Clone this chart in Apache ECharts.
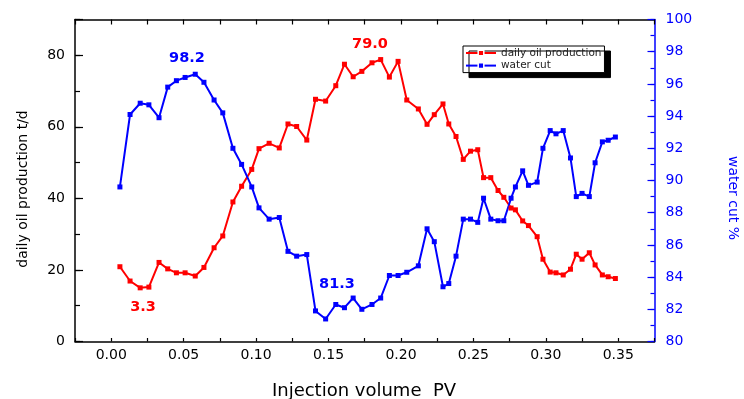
<!DOCTYPE html>
<html><head><meta charset="utf-8">
<script src="https://cdn.jsdelivr.net/npm/echarts@6/dist/echarts.min.js"></script>
<style>html,body{margin:0;padding:0;background:#fff}#c{width:744px;height:399px}</style>
</head><body><div id="c"></div>
<script>
const pv = [0.006,0.013,0.020,0.026,0.033,0.039,0.045,0.051,0.058,0.064,
            0.071,0.077,0.084,0.090,0.097,0.102,0.109,0.116,0.122,0.128,
            0.135,0.141,0.148,0.155,0.161,0.167,0.173,0.180,0.186,0.192,
            0.198,0.204,0.212,0.218,0.223,0.229,0.233,0.238,0.243,0.248,
            0.253,0.257,0.262,0.267,0.271,0.276,0.279,0.284,0.288,0.294,
            0.298,0.303,0.307,0.312,0.317,0.321,0.325,0.330,0.334,0.339,
            0.343,0.348];
const oil = [20.9,16.9,15.0,15.2,22.1,20.3,19.2,19.2,18.3,20.7,
             26.2,29.5,39.0,43.4,48.1,53.9,55.4,54.1,60.8,60.1,
             56.3,67.7,67.2,71.5,77.5,74.0,75.5,77.9,78.8,73.9,
             78.3,67.5,65.0,60.7,63.4,66.4,60.8,57.3,50.9,53.2,
             53.6,45.8,45.8,42.2,40.3,37.3,36.8,33.7,32.4,29.3,
             23.0,19.4,19.2,18.6,20.2,24.4,23.0,24.8,21.4,18.6,
             18.1,17.6];
const waterCut = [89.6,94.1,94.8,94.7,93.9,95.8,96.2,96.4,96.6,96.1,
                  95.0,94.2,92.0,91.0,89.6,88.3,87.6,87.7,85.6,85.3,
                  85.4,81.9,81.4,82.3,82.1,82.7,82.0,82.3,82.7,84.1,
                  84.1,84.3,84.7,87.0,86.2,83.4,83.6,85.3,87.6,87.6,
                  87.4,88.9,87.6,87.5,87.5,88.9,89.6,90.6,89.7,89.9,
                  92.0,93.1,92.9,93.1,91.4,89.0,89.2,89.0,91.1,92.4,
                  92.5,92.7];
const xTickLabels = ['0.00','0.05','0.10','0.15','0.20','0.25','0.30','0.35'];
const seriesNames = ['daily oil production','water cut'];
const annotations = [
  {text:'98.2', color:'#0000ff'},
  {text:'3.3', color:'#ff0000'},
  {text:'79.0', color:'#ff0000'},
  {text:'81.3', color:'#0000ff'}
];
const annPos = [[187,58.5],[143,307.5],[370,44],[337,284.5]];

const FONT = '"DejaVu Sans", sans-serif';
const RED = '#ff0000', BLUE = '#0000ff';
const chart = echarts.init(document.getElementById('c'));

const grid = {left:75, right:89.5, top:19.5, bottom:57.5, containLabel:false};
const baseX = {type:'value', min:-0.025, max:0.375, interval:0.025, splitLine:{show:false}, axisLabel:{show:false}};

chart.setOption({
  animation:false,
  backgroundColor:'#fff',
  grid: grid,
  xAxis:[
    Object.assign({}, baseX, {position:'bottom',
      axisLine:{onZero:false, lineStyle:{color:'#000', width:1.5}},
      axisTick:{inside:true, length:3.5, lineStyle:{color:'#000', width:1.2}}}),
    {type:'category', data:xTickLabels, position:'bottom', boundaryGap:true,
      axisLine:{show:false, onZero:false}, splitLine:{show:false},
      axisTick:{inside:true, alignWithLabel:true, interval:0, length:6.5, lineStyle:{color:'#000', width:1.2}},
      axisLabel:{interval:0, margin:7, fontSize:14, fontFamily:FONT, color:'#000'}},
    Object.assign({}, baseX, {position:'top',
      axisLine:{onZero:false, lineStyle:{color:'#000', width:1.5}},
      axisTick:{inside:true, length:5, lineStyle:{color:'#000', width:1.2}}})
  ],
  yAxis:[
    {type:'value', min:0, max:90, interval:10, position:'left', splitLine:{show:false},
      axisLine:{onZero:false, lineStyle:{color:'#000', width:1.5}},
      axisTick:{inside:true, length:5, lineStyle:{color:'#000', width:1.2}},
      axisLabel:{margin:10, fontSize:14, fontFamily:FONT, color:'#000',
        formatter:v => (Math.round(v) % 20 === 0 ? String(Math.round(v)) : '')}},
    {type:'value', min:0, max:90, interval:20, position:'left', splitLine:{show:false},
      axisLine:{show:false, onZero:false}, axisLabel:{show:false},
      axisTick:{inside:true, length:8, lineStyle:{color:'#000', width:1.2}}},
    {type:'value', min:80, max:100, interval:1, position:'right', splitLine:{show:false},
      axisLine:{onZero:false, lineStyle:{color:BLUE, width:1.5}},
      axisTick:{inside:true, length:4, lineStyle:{color:BLUE, width:1.2}},
      axisLabel:{margin:11, fontSize:14, fontFamily:FONT, color:BLUE,
        formatter:v => (Math.round(v) % 2 === 0 ? String(Math.round(v)) : '')}},
    {type:'value', min:80, max:100, interval:2, position:'right', splitLine:{show:false},
      axisLine:{show:false, onZero:false}, axisLabel:{show:false},
      axisTick:{inside:true, length:7, lineStyle:{color:BLUE, width:1.2}}}
  ],
  legend:{
    data:seriesNames, orient:'vertical', left:463, top:46,
    padding:[1,3,1,2], itemGap:0.6, itemWidth:30, itemHeight:7,
    backgroundColor:'#fff', borderColor:'#000', borderWidth:1,
    shadowColor:'#000', shadowOffsetX:6, shadowOffsetY:5, shadowBlur:0.01,
    itemStyle:{borderColor:'#fff', borderWidth:1.5},
    textStyle:{fontFamily:FONT, fontSize:10.5, color:'#222', lineHeight:12}
  },
  series:[
    {name:seriesNames[0], type:'line', xAxisIndex:0, yAxisIndex:0,
      data:pv.map((x,i)=>[x, oil[i]]), symbol:'rect', symbolSize:5,
      lineStyle:{color:RED, width:2}, itemStyle:{color:RED}},
    {name:seriesNames[1], type:'line', xAxisIndex:0, yAxisIndex:2,
      data:pv.map((x,i)=>[x, waterCut[i]]), symbol:'rect', symbolSize:5,
      lineStyle:{color:BLUE, width:2}, itemStyle:{color:BLUE}}
  ],
  graphic:[
    ...annotations.map((a,i)=>({type:'text', x:annPos[i][0], y:annPos[i][1], z:10,
      style:{text:a.text, fill:a.color, font:'bold 14.5px ' + FONT, align:'center', verticalAlign:'middle'}})),
    {type:'text', x:23.5, y:189, rotation:Math.PI/2,
      style:{text:'daily oil production t/d', fill:'#000', font:'14px ' + FONT, align:'center', verticalAlign:'middle'}},
    {type:'text', x:733, y:198, rotation:-Math.PI/2,
      style:{text:'water cut %', fill:BLUE, font:'14px ' + FONT, align:'center', verticalAlign:'middle'}},
    {type:'text', x:364, y:391.5,
      style:{text:'Injection volume  PV', fill:'#000', font:'18px ' + FONT, align:'center', verticalAlign:'middle'}}
  ]
});
</script></body></html>
